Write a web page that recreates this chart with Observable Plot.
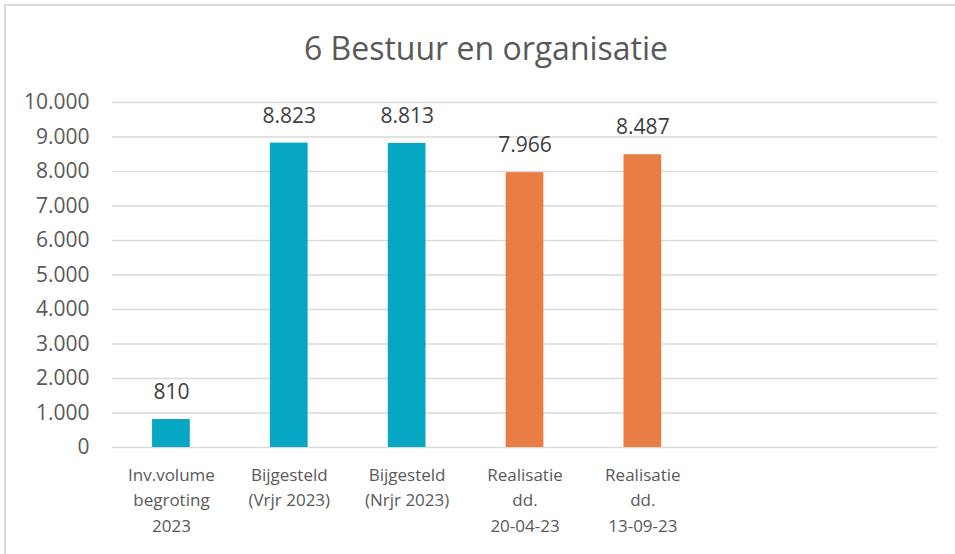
<!DOCTYPE html>
<html>
<head>
<meta charset="utf-8">
<script src="https://cdn.jsdelivr.net/npm/d3@7"></script>
<script src="https://cdn.jsdelivr.net/npm/@observablehq/plot@0.6"></script>
<style>
  html, body { margin: 0; padding: 0; background: #fff; overflow: hidden; }
  body { position: relative; width: 955px; height: 554px; font-family: "Open Sans", sans-serif; }
  #frame { position: absolute; left: 4px; top: 4px; width: 1000px; height: 1000px;
           border-left: 2px solid #d9d9d9; border-top: 2px solid #d9d9d9; pointer-events: none; }
  #title { height: 80px; width: 955px; text-align: center; font-size: 32px; color: #595959;
           line-height: 96px; padding-left: 17px; box-sizing: border-box; }
  #chart svg { display: block; }
</style>
</head>
<body>
<div id="frame"></div>
<div id="title">6 Bestuur en organisatie</div>
<div id="chart"></div>
<script>
const categories = ["Inv.volume\nbegroting\n2023", "Bijgesteld\n(Vrjr 2023)", "Bijgesteld\n(Nrjr 2023)", "Realisatie\ndd.\n20-04-23", "Realisatie\ndd.\n13-09-23", "leeg1", "leeg2"];
const values = [810, 8823, 8813, 7966, 8487];
const groups = ["Begroting", "Begroting", "Begroting", "Realisatie", "Realisatie"];
const yTicks = [0, 1000, 2000, 3000, 4000, 5000, 6000, 7000, 8000, 9000, 10000];

const nl = d3.formatLocale({decimal: ",", thousands: ".", grouping: [3], currency: ["€", ""]});
const fmt = nl.format(",d");

const data = values.map((v, i) => ({cat: categories[i], value: v, group: groups[i]}));

const chart = Plot.plot({
  width: 955,
  height: 474,
  marginTop: 22,
  marginBottom: 107,
  marginLeft: 112,
  marginRight: 18,
  style: {fontFamily: "Open Sans, sans-serif", background: "#fff", overflow: "visible"},
  x: {domain: categories, paddingInner: 0.68, paddingOuter: 0.34, round: false, label: null},
  y: {domain: [0, 10000], label: null},
  color: {domain: ["Begroting", "Realisatie"], range: ["#05a7c3", "#ea7d43"]},
  marks: [
    Plot.ruleY(yTicks, {stroke: "#d9d9d9", strokeWidth: 1.5}),
    Plot.barY(data, {x: "cat", y: "value", fill: "group"}),
    Plot.text(data, {x: "cat", y: "value", text: d => fmt(d.value), dy: -27, fontSize: 21, fill: "#404040"}),
    Plot.axisY({ticks: yTicks, tickFormat: fmt, tickSize: 0, tickPadding: 23, fontSize: 21, color: "#595959", label: null}),
    Plot.axisX({tickSize: 0, tickPadding: 15, fontSize: 17, lineHeight: 1.5, color: "#595959", label: null,
                tickFormat: d => d.startsWith("leeg") ? "" : d})
  ]
});
document.getElementById("chart").appendChild(chart);
</script>
</body>
</html>
